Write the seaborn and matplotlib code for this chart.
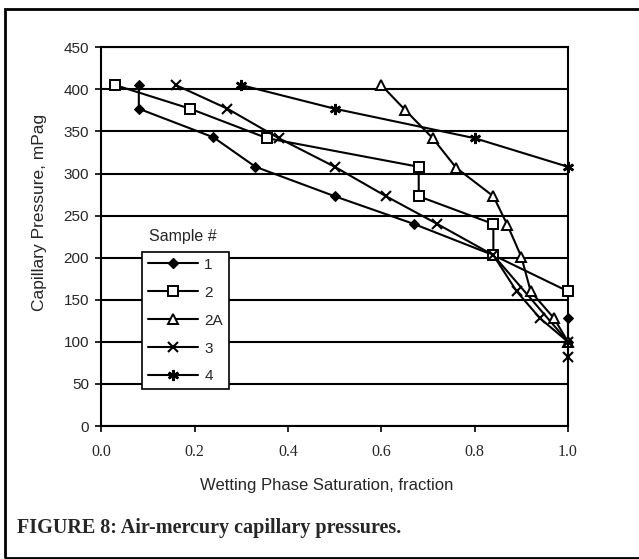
import matplotlib
matplotlib.use("Agg")
import matplotlib.pyplot as plt
import seaborn as sns
import pandas as pd
from matplotlib.patches import Rectangle
from matplotlib.lines import Line2D

sns.set_theme(style="white")
plt.rcParams['font.family'] = ['Liberation Sans', 'DejaVu Sans']

# Data (wetting phase saturation, capillary pressure)
s1_x = [0.08, 0.08, 0.24, 0.33, 0.50, 0.67, 0.84, 1.00, 1.00]
s1_y = [405, 377, 343, 308, 273, 240, 203, 100, 128]
s2_x = [0.03, 0.19, 0.355, 0.68, 0.68, 0.84, 0.84, 1.00]
s2_y = [405, 377, 342, 308, 273, 240, 203, 160]
s2a_x = [0.60, 0.65, 0.71, 0.76, 0.84, 0.87, 0.90, 0.92, 0.97, 1.00]
s2a_y = [405, 376, 342, 307, 273, 239, 201, 160, 128, 100]
s3_x = [0.16, 0.27, 0.38, 0.50, 0.61, 0.72, 0.84, 0.89, 0.94, 1.00, 1.00]
s3_y = [405, 377, 342, 308, 273, 240, 203, 160, 128, 100, 82]
s4_x = [0.30, 0.50, 0.80, 1.00]
s4_y = [405, 377, 342, 308]
labels = ["1", "2", "2A", "3", "4"]
x_ticks = [0.0, 0.2, 0.4, 0.6, 0.8, 1.0]
y_ticks = [0, 50, 100, 150, 200, 250, 300, 350, 400, 450]

W, H = 639, 559
fig = plt.figure(figsize=(W / 100, H / 100), dpi=100)
ax = fig.add_axes([101.5 / W, (H - 426) / H, (568 - 101.5) / W, (426 - 47.3) / H])

series = [(s1_x, s1_y), (s2_x, s2_y), (s2a_x, s2a_y), (s3_x, s3_y), (s4_x, s4_y)]
styles = [
    dict(marker="D", markersize=5, markerfacecolor="black", markeredgecolor="black"),
    dict(marker="s", markersize=6.5, markerfacecolor="white", markeredgecolor="black", markeredgewidth=1.4),
    dict(marker="^", markersize=7, markerfacecolor="white", markeredgecolor="black", markeredgewidth=1.4),
    dict(marker="x", markersize=7, markeredgecolor="black", markeredgewidth=1.5),
    dict(marker=(6, 2, 0), markersize=8, markeredgecolor="black", markeredgewidth=1.8),
]
handles = []
for (xs, ys), lab, st in zip(series, labels, styles):
    df = pd.DataFrame({"x": xs, "y": ys})
    sns.lineplot(data=df, x="x", y="y", sort=False, estimator=None, color="black",
                 linewidth=1.5, ax=ax, clip_on=False, zorder=3, **st)
    handles.append(Line2D([0], [0], color="black", linewidth=1.5, **st))

ax.set_xlim(0, 1.0)
ax.set_ylim(0, 450)
ax.set_xticks(x_ticks)
ax.set_yticks(y_ticks)
ax.set_xticklabels([f"{v:.1f}" for v in x_ticks], family="Liberation Serif", fontsize=11.5)
ax.set_yticklabels([str(v) for v in y_ticks], fontsize=11)
ax.yaxis.grid(True, color="black", linewidth=1.5)
ax.set_axisbelow(True)
for sp in ["left", "bottom", "right", "top"]:
    ax.spines[sp].set_visible(True)
    ax.spines[sp].set_color("black")
    ax.spines[sp].set_linewidth(1.5)
ax.tick_params(axis="both", direction="out", length=4, width=1.2, color="black",
               bottom=True, left=True, pad=5)
ax.tick_params(axis="x", pad=9)
ax.set_xlabel("Wetting Phase Saturation, fraction", fontsize=12)
ax.set_ylabel("Capillary Pressure, mPag", fontsize=12.5)
ax.xaxis.set_label_coords((327 - 101.5) / 466.5, (426 - 478) / 378.7)
ax.yaxis.set_label_coords((47 - 101.5) / 466.5, (426 - 212) / 378.7)

leg = ax.legend(handles, labels, loc="upper left",
                bbox_to_anchor=((142 - 101.5) / 466.5, (426 - 252) / 378.7),
                borderaxespad=0, frameon=True, fontsize=11, handlelength=3.3,
                labelspacing=0.91, borderpad=0.38, handletextpad=0.4,
                fancybox=False, edgecolor="black", framealpha=1)
leg.get_frame().set_linewidth(1.2)
leg.set_zorder(5)
ax.text((183 - 101.5) / 466.5, (426 - 237) / 378.7, "Sample #", transform=ax.transAxes,
        ha="center", va="center", fontsize=11.5)

fig.text(17 / W, 1 - 528 / H, "FIGURE 8: Air-mercury capillary pressures.",
         family="Liberation Serif", fontweight="bold", fontsize=14.5, ha="left", va="center")

fig.patches.append(Rectangle((5 / W, 1.5 / H), 2, (557.5 - 9) / H, transform=fig.transFigure,
                             fill=False, edgecolor="black", linewidth=2))
fig.savefig("out.png", dpi=100)
